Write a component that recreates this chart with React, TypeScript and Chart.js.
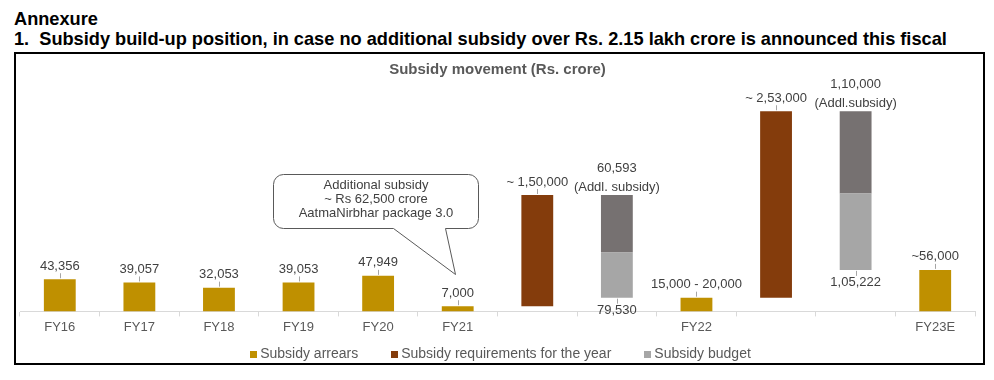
import React, { useEffect, useRef } from 'react';
import { Chart, registerables } from 'chart.js';

Chart.register(...registerables);

const FONT = "'Liberation Sans', Arial, Helvetica, sans-serif";

// ---- Data ----
const categories = ['FY16', 'FY17', 'FY18', 'FY19', 'FY20', 'FY21', '', '', 'FY22', '', '', 'FY23E'];

const arrears = [43356, 39057, 32053, 39053, 47949, 7000, null, null, 18500, null, null, 56000];
const arrearsLabels = ['43,356', '39,057', '32,053', '39,053', '47,949', '7,000', '', '', '15,000 - 20,000', '', '', '~56,000'];

const requirements = [null, null, null, null, null, null, [7000, 157000], null, null, [18500, 270000], null, null];
const requirementLabels = ['', '', '', '', '', '', '~ 1,50,000', '', '', '~ 2,53,000', '', ''];

const budget = [null, null, null, null, null, null, null, [18500, 79530], null, null, [56000, 159000], null];
const budgetLabels = ['', '', '', '', '', '', '', '79,530', '', '', '1,05,222', ''];

const addlSubsidy = [null, null, null, null, null, null, null, [79530, 157000], null, null, [159000, 270000], null];
const addlLabels = [null, null, null, null, null, null, null, ['60,593', '(Addl. subsidy)'], null, null, ['1,10,000', '(Addl.subsidy)'], null];

const seriesNames = ['Subsidy arrears', 'Subsidy requirements for the year', 'Subsidy budget', 'Additional subsidy'];
const seriesColors = ['#BF9000', '#843C0C', '#A6A6A6', '#767171'];

const calloutIndex = 5;
const calloutLines = ['Additional subsidy', '~ Rs 62,500 crore', 'AatmaNirbhar package 3.0'];

const headerLines = ['Annexure', '1.  Subsidy build-up position, in case no additional subsidy over Rs. 2.15 lakh crore is announced this fiscal'];
const chartTitle = 'Subsidy movement (Rs. crore)';

const LABEL_COLOR = '#404040';
const LEADER_COLOR = '#A6A6A6';

function hasVal(v: any) {
  return v !== null && v !== undefined;
}

const labelsPlugin = {
  id: 'barLabels',
  afterDatasetsDraw(chart: any) {
    const ctx = chart.ctx as CanvasRenderingContext2D;
    ctx.save();
    ctx.font = `13px ${FONT}`;
    ctx.textAlign = 'center';
    ctx.textBaseline = 'middle';

    const leader = (x: number, y1: number, y2: number) => {
      if (Math.abs(y2 - y1) < 2) return;
      ctx.strokeStyle = LEADER_COLOR;
      ctx.lineWidth = 1;
      ctx.beginPath();
      ctx.moveTo(Math.round(x) + 0.5, y1);
      ctx.lineTo(Math.round(x) + 0.5, y2);
      ctx.stroke();
    };

    const drawAbove = (dsIndex: number, texts: any[]) => {
      const meta = chart.getDatasetMeta(dsIndex);
      const data = chart.data.datasets[dsIndex].data;
      meta.data.forEach((el: any, i: number) => {
        const t = texts[i];
        if (!t || !hasVal(data[i])) return;
        const { x, y, base } = el.getProps(['x', 'y', 'base'], true);
        const top = Math.min(y, base);
        ctx.fillStyle = LABEL_COLOR;
        if (Array.isArray(t)) {
          const n = t.length;
          t.forEach((line: string, k: number) => {
            ctx.fillText(line, x, top - 8 - (n - 1 - k) * 19);
          });
        } else {
          const cy = top - 13;
          ctx.fillText(t, x, cy);
          leader(x, cy + 7, top - 1);
        }
      });
    };

    const drawBelow = (dsIndex: number, texts: any[]) => {
      const meta = chart.getDatasetMeta(dsIndex);
      const data = chart.data.datasets[dsIndex].data;
      meta.data.forEach((el: any, i: number) => {
        const t = texts[i];
        if (!t || !hasVal(data[i])) return;
        const { x, y, base } = el.getProps(['x', 'y', 'base'], true);
        const bottom = Math.max(y, base);
        const cy = bottom + 13;
        ctx.fillStyle = LABEL_COLOR;
        ctx.fillText(t, x, cy);
        leader(x, bottom + 1, cy - 7);
      });
    };

    drawAbove(0, arrearsLabels);
    drawAbove(1, requirementLabels);
    drawBelow(2, budgetLabels);
    drawAbove(3, addlLabels);
    ctx.restore();
  },
};

const calloutPlugin = {
  id: 'callout',
  afterDraw(chart: any) {
    const ctx = chart.ctx as CanvasRenderingContext2D;
    const el = chart.getDatasetMeta(0).data[calloutIndex];
    if (!el) return;
    const { x, y } = el.getProps(['x', 'y'], true);
    const tipX = Math.round(x - 3) + 0.5;
    const tipY = Math.round(y - 32) + 0.5;
    const left = tipX - 182;
    const right = tipX + 23;
    const top = tipY - 100;
    const bottom = tipY - 46;
    const r = 10;
    ctx.save();
    ctx.beginPath();
    ctx.moveTo(left + r, top);
    ctx.lineTo(right - r, top);
    ctx.arcTo(right, top, right, top + r, r);
    ctx.lineTo(right, bottom - r);
    ctx.arcTo(right, bottom, right - r, bottom, r);
    ctx.lineTo(tipX - 10, bottom);
    ctx.lineTo(tipX, tipY);
    ctx.lineTo(tipX - 62, bottom);
    ctx.lineTo(left + r, bottom);
    ctx.arcTo(left, bottom, left, bottom - r, r);
    ctx.lineTo(left, top + r);
    ctx.arcTo(left, top, left + r, top, r);
    ctx.closePath();
    ctx.fillStyle = '#FFFFFF';
    ctx.fill();
    ctx.strokeStyle = '#595959';
    ctx.lineWidth = 1;
    ctx.stroke();
    ctx.fillStyle = LABEL_COLOR;
    ctx.font = `13px ${FONT}`;
    ctx.textAlign = 'center';
    ctx.textBaseline = 'middle';
    const cx = (left + right) / 2;
    calloutLines.forEach((line, k) => {
      ctx.fillText(line, cx, top + 10.5 + k * 14.2);
    });
    ctx.restore();
  },
};

const legendPlugin = {
  id: 'customLegend',
  afterDraw(chart: any) {
    const ctx = chart.ctx as CanvasRenderingContext2D;
    const items = chart.data.datasets.slice(0, 3).map((d: any) => ({ text: d.label, color: d.backgroundColor }));
    ctx.save();
    ctx.font = `14px ${FONT}`;
    ctx.textBaseline = 'middle';
    ctx.textAlign = 'left';
    const box = 7;
    const gapText = 3;
    const gapItems = 33;
    const widths = items.map((it: any) => ctx.measureText(it.text).width);
    const total = widths.reduce((s: number, w: number) => s + box + gapText + w, 0) + gapItems * (items.length - 1);
    const area = chart.chartArea;
    let x = (area.left + area.right) / 2 + 3 - total / 2;
    const cy = area.bottom + 43;
    items.forEach((it: any, i: number) => {
      ctx.fillStyle = it.color;
      ctx.fillRect(Math.round(x), Math.round(cy - box / 2), box, box);
      ctx.fillStyle = '#595959';
      ctx.fillText(it.text, x + box + gapText, cy);
      x += box + gapText + widths[i] + gapItems;
    });
    ctx.restore();
  },
};

export default function App() {
  const ref = useRef<HTMLCanvasElement>(null);

  useEffect(() => {
    const canvas = ref.current;
    if (!canvas) return;
    const chart = new Chart(canvas, {
      type: 'bar',
      data: {
        labels: categories,
        datasets: [
          { label: seriesNames[0], data: arrears as any, backgroundColor: seriesColors[0] },
          { label: seriesNames[1], data: requirements as any, backgroundColor: seriesColors[1] },
          { label: seriesNames[2], data: budget as any, backgroundColor: seriesColors[2] },
          { label: seriesNames[3], data: addlSubsidy as any, backgroundColor: seriesColors[3] },
        ],
      },
      options: {
        responsive: false,
        animation: false,
        devicePixelRatio: 1,
        events: [],
        layout: { padding: { left: 4, right: 8, top: 0, bottom: 25 } },
        datasets: { bar: { grouped: false, barPercentage: 0.4, categoryPercentage: 1 } } as any,
        plugins: {
          legend: { display: false },
          tooltip: { enabled: false },
          title: {
            display: true,
            text: chartTitle,
            color: '#595959',
            font: { family: FONT, size: 15, weight: 'bold' },
            padding: { top: 7, bottom: 10 },
          },
        },
        scales: {
          x: {
            grid: { display: true, drawOnChartArea: false, drawTicks: true, tickLength: 5, color: '#D9D9D9', offset: true },
            border: { display: true, color: '#D9D9D9', width: 1 },
            ticks: { color: '#595959', font: { family: FONT, size: 13 }, padding: 3, autoSkip: false, maxRotation: 0 },
          },
          y: { display: false, min: 0, max: 300000 },
        },
      },
      plugins: [labelsPlugin, calloutPlugin, legendPlugin],
    });
    return () => chart.destroy();
  }, []);

  return (
    <div style={{ paddingLeft: 6, fontFamily: FONT }}>
      <div style={{ font: `bold 18.2px ${FONT}`, lineHeight: '20px', paddingTop: 1, color: '#000', whiteSpace: 'pre' }}>
        {headerLines.map((l) => (
          <div key={l}>{l}</div>
        ))}
      </div>
      <div style={{ marginTop: 3, border: '2px solid #000', width: 967, height: 309 }}>
        <canvas ref={ref} width={967} height={309} style={{ display: 'block', width: 967, height: 309 }} />
      </div>
    </div>
  );
}
